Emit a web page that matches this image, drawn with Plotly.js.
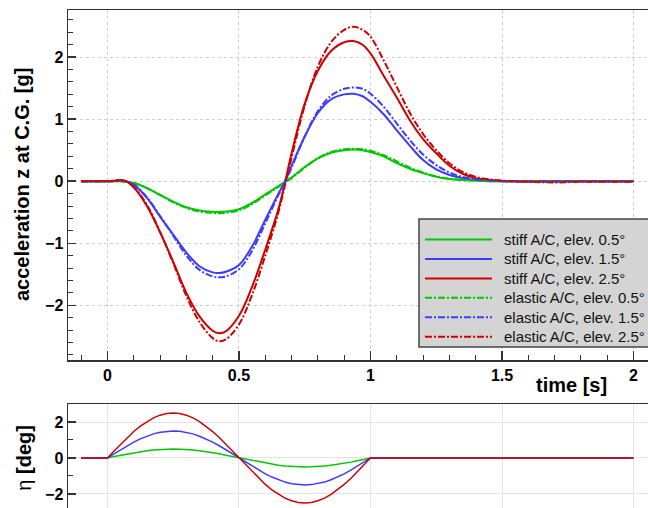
<!DOCTYPE html>
<html>
<head>
<meta charset="utf-8">
<script src="https://cdn.plot.ly/plotly-3.0.1.min.js"></script>
<style>html,body{margin:0;padding:0;background:#fff;}#plot{width:648px;height:508px;}</style>
</head>
<body>
<div id="plot"></div>
<script>
// time grid for the acceleration curves [s]
const timeAcc = [-0.1, 0, 0.03, 0.05, 0.07, 0.1, 0.15, 0.2, 0.25, 0.3, 0.35, 0.4, 0.425, 0.45, 0.5, 0.55, 0.6, 0.65, 0.675, 0.7, 0.75, 0.8, 0.85, 0.9, 0.935, 0.97, 1.0, 1.05, 1.1, 1.15, 1.2, 1.25, 1.3, 1.35, 1.4, 1.45, 1.5, 1.6, 1.7, 1.8, 1.9, 2.0];

// acceleration z at C.G. [g]
const stiff05 = [0, 0, 0, 0, -0.01, -0.03, -0.11, -0.22, -0.33, -0.42, -0.47, -0.492, -0.495, -0.488, -0.45, -0.35, -0.21, -0.08, -0.01, 0.06, 0.23, 0.37, 0.46, 0.50, 0.51, 0.50, 0.47, 0.40, 0.29, 0.20, 0.13, 0.07, 0.035, 0.02, 0.01, 0, 0, 0, 0, 0, 0, 0];
const stiff15 = [0, 0, 0.005, 0.01, 0, -0.06, -0.27, -0.57, -0.86, -1.15, -1.37, -1.47, -1.48, -1.46, -1.35, -1.05, -0.62, -0.20, 0.0, 0.25, 0.72, 1.10, 1.32, 1.40, 1.41, 1.37, 1.28, 1.08, 0.82, 0.57, 0.34, 0.19, 0.10, 0.05, 0.02, 0.01, 0, 0, 0, 0, 0, 0];
const stiff25 = [0, 0, 0.01, 0.02, 0, -0.10, -0.40, -0.82, -1.30, -1.80, -2.18, -2.41, -2.45, -2.42, -2.17, -1.70, -1.10, -0.45, -0.02, 0.45, 1.25, 1.78, 2.10, 2.24, 2.26, 2.20, 2.06, 1.70, 1.35, 0.98, 0.68, 0.45, 0.25, 0.12, 0.05, 0.02, 0.005, 0, 0, 0, 0, 0];
const elastic05 = [0, 0, 0, 0, -0.01, -0.03, -0.11, -0.22, -0.34, -0.43, -0.49, -0.51, -0.515, -0.51, -0.47, -0.37, -0.23, -0.09, -0.02, 0.05, 0.22, 0.37, 0.47, 0.515, 0.525, 0.515, 0.49, 0.42, 0.32, 0.22, 0.14, 0.08, 0.04, 0.02, 0.01, 0, 0, 0, 0, 0, 0, 0];
const elastic15 = [0, 0, 0.005, 0.01, 0, -0.05, -0.26, -0.56, -0.88, -1.20, -1.43, -1.535, -1.55, -1.535, -1.42, -1.12, -0.68, -0.22, -0.02, 0.22, 0.72, 1.13, 1.38, 1.49, 1.51, 1.49, 1.41, 1.20, 0.93, 0.66, 0.43, 0.26, 0.14, 0.07, 0.03, 0.01, 0, -0.01, 0, 0, 0, 0];
const elastic25 = [0, 0, 0.01, 0.02, 0, -0.09, -0.38, -0.82, -1.32, -1.85, -2.27, -2.53, -2.58, -2.55, -2.31, -1.83, -1.20, -0.50, -0.06, 0.38, 1.22, 1.85, 2.24, 2.44, 2.49, 2.44, 2.33, 1.95, 1.52, 1.10, 0.76, 0.50, 0.29, 0.15, 0.07, 0.03, 0.01, -0.01, -0.02, -0.01, -0.01, -0.01];

// elevator deflection eta [deg]
const timeEta = [-0.1, 0, 0.025, 0.05, 0.075, 0.1, 0.125, 0.15, 0.175, 0.2, 0.225, 0.25, 0.275, 0.3, 0.325, 0.35, 0.375, 0.4, 0.425, 0.45, 0.475, 0.5, 0.525, 0.55, 0.575, 0.6, 0.625, 0.65, 0.675, 0.7, 0.725, 0.75, 0.775, 0.8, 0.825, 0.85, 0.875, 0.9, 0.925, 0.95, 0.975, 1.0, 2.0];
const eta05 = [0, 0, 0.08, 0.15, 0.23, 0.29, 0.35, 0.40, 0.45, 0.48, 0.49, 0.5, 0.49, 0.48, 0.45, 0.40, 0.35, 0.29, 0.23, 0.15, 0.08, 0, -0.08, -0.15, -0.23, -0.29, -0.35, -0.40, -0.45, -0.48, -0.49, -0.5, -0.49, -0.48, -0.45, -0.40, -0.35, -0.29, -0.23, -0.15, -0.08, 0, 0];
const eta15 = [0, 0, 0.23, 0.46, 0.68, 0.88, 1.06, 1.21, 1.34, 1.43, 1.48, 1.5, 1.48, 1.43, 1.34, 1.21, 1.06, 0.88, 0.68, 0.46, 0.23, 0, -0.23, -0.46, -0.68, -0.88, -1.06, -1.21, -1.34, -1.43, -1.48, -1.5, -1.48, -1.43, -1.34, -1.21, -1.06, -0.88, -0.68, -0.46, -0.23, 0, 0];
const eta25 = [0, 0, 0.39, 0.77, 1.14, 1.47, 1.77, 2.02, 2.23, 2.38, 2.47, 2.5, 2.47, 2.38, 2.23, 2.02, 1.77, 1.47, 1.14, 0.77, 0.39, 0, -0.39, -0.77, -1.14, -1.47, -1.77, -2.02, -2.23, -2.38, -2.47, -2.5, -2.47, -2.38, -2.23, -2.02, -1.77, -1.47, -1.14, -0.77, -0.39, 0, 0];

const seriesNames = ['stiff A/C, elev. 0.5°', 'stiff A/C, elev. 1.5°', 'stiff A/C, elev. 2.5°',
                     'elastic A/C, elev. 0.5°', 'elastic A/C, elev. 1.5°', 'elastic A/C, elev. 2.5°'];
const xTicks = [0, 0.5, 1, 1.5, 2];
const xTickText = ['0', '0.5', '1', '1.5', '2'];

const GREEN = '#00c800', BLUE = '#3c3cff', RED = '#d00000';
const DASHDOT = '7px,2px,2px,2px';

const accSeries = [stiff05, stiff15, stiff25, elastic05, elastic15, elastic25];
const accColors = [GREEN, BLUE, RED, GREEN, BLUE, RED];
const accDash = accSeries.map((s, i) => i < 3 ? 'solid' : DASHDOT);
const traces = accSeries.map((y, i) => ({
  x: timeAcc, y: y, type: 'scatter', mode: 'lines', name: seriesNames[i], showlegend: false,
  line: {color: accColors[i], width: 2, shape: 'spline', smoothing: 1.0, dash: accDash[i]},
  xaxis: 'x', yaxis: 'y'
}));
[eta05, eta15, eta25].forEach((y, i) => {
  traces.push({x: timeEta, y: y, type: 'scatter', mode: 'lines', showlegend: false,
    line: {color: [GREEN, BLUE, RED][i], width: 1.5}, xaxis: 'x2', yaxis: 'y2'});
});

const FONT = 'Liberation Sans, Arial, Helvetica, sans-serif';
const tickFont = {family: FONT, size: 16, color: '#000', weight: 'bold'};
const axisLine = '#333';

// Legend box (drawn by hand to match the reference row spacing)
const W = 648, H = 508, ML = 68, MT = 10;
const px2x = p => (p - ML) / (W - ML);
const px2y = p => (H - p) / (H - MT);
const shapes = [{type: 'rect', xref: 'paper', yref: 'paper',
  x0: px2x(419), x1: px2x(660), y0: px2y(347), y1: px2y(219),
  fillcolor: '#d4d4d4', line: {color: '#444', width: 1.5}, layer: 'above'}];
const annotations = [];
seriesNames.forEach((name, i) => {
  const yc = 239.5 + i * 19.45;
  shapes.push({type: 'line', xref: 'paper', yref: 'paper', x0: px2x(425), x1: px2x(492),
    y0: px2y(yc), y1: px2y(yc), line: {color: accColors[i], width: 2, dash: accDash[i]}, layer: 'above'});
  annotations.push({text: name, xref: 'paper', yref: 'paper', x: px2x(502), y: px2y(yc),
    xanchor: 'left', yanchor: 'middle', showarrow: false,
    font: {family: FONT, size: 15, color: '#111'}});
});
annotations.push(
  {text: '<b>acceleration z at C.G. [g]</b>', xref: 'paper', yref: 'paper', x: -0.0793, y: 0.6486,
   xanchor: 'center', yanchor: 'middle', textangle: -90, showarrow: false,
   font: {family: FONT, size: 20, color: '#000'}},
  {text: '<b>time [s]</b>', xref: 'x', yref: 'paper', x: 1.763, y: 0.247,
   xanchor: 'center', yanchor: 'middle', showarrow: false,
   font: {family: FONT, size: 20, color: '#000'}},
  {text: 'η <b>[deg]</b>', xref: 'paper', yref: 'paper', x: -0.0759, y: 0.101,
   xanchor: 'center', yanchor: 'middle', textangle: -90, showarrow: false,
   font: {family: FONT, size: 20, color: '#000'}}
);

const layout = {
  width: W, height: H,
  margin: {l: ML, r: 0, t: MT, b: 0, autoexpand: false},
  paper_bgcolor: '#fff', plot_bgcolor: '#fff',
  font: {family: FONT, color: '#000'},
  showlegend: false,
  xaxis: {domain: [0, 1], range: [-0.15, 2.055], tickmode: 'array', tickvals: xTicks, ticktext: xTickText,
    ticks: 'inside', ticklen: 9, tickwidth: 1.5, tickcolor: axisLine,
    showline: true, linecolor: axisLine, linewidth: 1.5, mirror: true,
    showgrid: true, gridcolor: '#cfcfcf', griddash: 'dot', gridwidth: 1, zeroline: false,
    tickfont: tickFont, anchor: 'y',
    minor: {dtick: 0.1, tick0: 0, ticks: 'inside', ticklen: 5, tickwidth: 1, tickcolor: axisLine, showgrid: false}},
  yaxis: {domain: [0.2962, 1], range: [-2.89, 2.76], dtick: 1, tick0: 0,
    ticks: 'inside', ticklen: 8, tickwidth: 1.5, tickcolor: axisLine,
    showline: true, linecolor: axisLine, linewidth: 1.5, mirror: false,
    showgrid: true, gridcolor: '#cfcfcf', griddash: 'dot', gridwidth: 1, zeroline: false,
    tickfont: tickFont, anchor: 'x',
    minor: {dtick: 0.2, tick0: 0, ticks: 'inside', ticklen: 5, tickwidth: 1, tickcolor: axisLine, showgrid: false}},
  xaxis2: {domain: [0, 1], range: [-0.15, 2.055], tickmode: 'array', tickvals: xTicks,
    side: 'top', showticklabels: false, ticks: '',
    showline: true, linecolor: axisLine, linewidth: 1.5, mirror: false,
    showgrid: true, gridcolor: '#e4e4e4', gridwidth: 1, zeroline: false, anchor: 'y2'},
  yaxis2: {domain: [0, 0.2088], range: [-2.78, 3.0], dtick: 2, tick0: 0,
    ticks: 'inside', ticklen: 8, tickwidth: 1.5, tickcolor: axisLine,
    showline: true, linecolor: axisLine, linewidth: 1.5, mirror: false,
    showgrid: true, gridcolor: '#e4e4e4', gridwidth: 1, zeroline: false,
    tickfont: tickFont, anchor: 'x2',
    minor: {dtick: 1, ticks: 'inside', ticklen: 5, tickwidth: 1, tickcolor: axisLine, showgrid: false}},
  shapes: shapes,
  annotations: annotations
};

Plotly.newPlot('plot', traces, layout, {displayModeBar: false, staticPlot: true});
</script>
</body>
</html>
